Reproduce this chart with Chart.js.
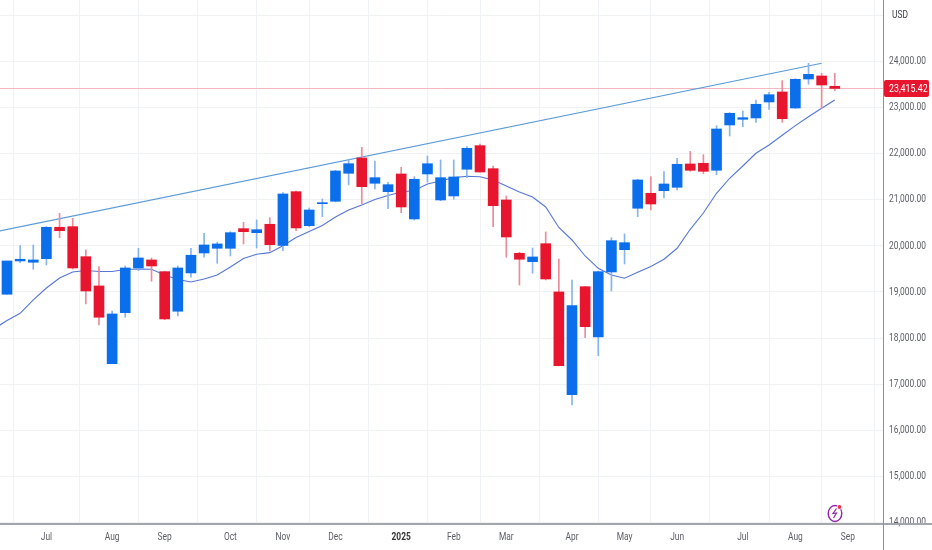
<!DOCTYPE html>
<html>
<head>
<meta charset="utf-8">
<title>Weekly candles</title>
<script src="https://cdn.jsdelivr.net/npm/chart.js@4/dist/chart.umd.min.js"></script>
<style>
    html, body { margin: 0; padding: 0; background: #fff; }
    canvas { display: block; }
</style>
</head>
<body>
<canvas id="chart" width="932" height="550"></canvas>
<script>
const opens = [18951,19673,19645,19723,20404,20417,19766,19131,17445,18552,19521,19695,19441,18582,19413,19846,
    19948,19948,20374,20287,20469,20009,21176,20439,20916,20968,21575,21907,21358,21176,21560,20584,
    21560,20996,21083,21662,22174,21675,20996,19840,19658,20048,19001,16773,19115,18025,19434,19918,
    20816,21141,21198,21271,21777,21792,21640,22623,22746,22775,23122,23339,22991,23620,23686,23462];
const highs = [19673,20005,20020,20417,20708,20599,19912,19549,18588,19564,19948,19738,19450,19564,19948,20274,
    20079,20308,20512,20562,20612,21154,21191,20822,21018,21640,21879,22139,21842,21380,21705,21501,
    21950,21864,21864,22152,22211,21733,21083,19862,19955,20302,19716,19261,19125,19450,20178,20259,
    21445,21501,21610,21900,22052,21979,22608,22890,22926,23165,23332,23584,23625,23961,23744,23744];
const lows = [18951,19636,19493,19586,20178,19499,18740,18285,17445,18452,19463,19233,18400,18480,19319,19753,
    19623,19781,20042,19955,19890,19896,20330,20417,20634,20955,21321,20909,21235,20807,20721,20562,
    21380,20981,21011,21480,21597,20417,19753,19152,19406,19261,17395,16550,18009,17619,19022,19608,
    20634,20779,21039,21213,21618,21566,21545,22384,22586,22681,22963,22681,22980,23506,22985,23367];
const closes = [19673,19710,19695,20404,20330,19521,19022,18452,18523,19521,19738,19564,18415,19521,19797,20020,
    20042,20287,20308,20352,20026,21126,20389,20779,20931,21625,21783,21284,21480,21328,20844,21445,
    21783,21480,21495,22117,21603,20872,20193,19710,19760,19282,17402,18703,18248,19441,20113,20070,
    21430,20909,21343,21770,21640,21618,22536,22877,22781,23072,23280,22759,23614,23722,23490,23415.42];

// moving average, first value sits one week left of the first candle
const maValues = [18198,18382,18538,18827,19087,19304,19434,19467,19445,19445,19488,19499,19493,19369,19272,19217,19282,
    19369,19543,19727,19818,19853,20005,20183,20313,20443,20627,20779,20887,21007,21094,21170,21202,
    21343,21408,21480,21510,21501,21430,21300,21170,21061,20844,20400,20128,19781,19514,19369,19298,
    19428,19554,19710,19948,20360,20714,21141,21467,21733,22009,22189,22399,22608,22803,22985,23165];

const trendIndex = [-1, 62];
const trendValues = [20298, 23961];

const xTickIndex = [3, 8, 12, 17, 21, 25, 30, 34, 38, 43, 47, 51, 56, 60, 64];
const xTickLabels = ["Jul", "Aug", "Sep", "Oct", "Nov", "Dec", "2025", "Feb", "Mar", "Apr", "May", "Jun", "Jul", "Aug", "Sep"];
const yTicks = [25000, 24000, 23000, 22000, 21000, 20000, 19000, 18000, 17000, 16000, 15000, 14000];

const UP = "#0b6fec";
const DOWN = "#e8152f";
const UP_WICK = "#86b4ec";
const DOWN_WICK = "#ec8b99";
const FONT = "Roboto, sans-serif";
const SQUEEZE = 0.8; // the original labels are set in a narrow face

const formatPrice = (v) => v.toLocaleString("en-US", { minimumFractionDigits: 2, maximumFractionDigits: 2 });

const isUp = closes.map((c, i) => c >= opens[i]);

function narrowText(ctx, text, x, y, font, color, align) {
    ctx.save();
    ctx.translate(x, y);
    ctx.scale(SQUEEZE, 1);
    ctx.font = font;
    ctx.fillStyle = color;
    ctx.textAlign = align;
    ctx.textBaseline = "middle";
    ctx.fillText(text, 0, 0);
    ctx.restore();
}

const overlay = {
    id: "overlay",
    beforeDatasetsDraw(chart) {
        const { ctx, chartArea, scales } = chart;
        const last = closes[closes.length - 1];
        const py = Math.round(scales.y.getPixelForValue(last)) + 0.5;
        ctx.save();
        ctx.strokeStyle = "#f3b9c0";
        ctx.lineWidth = 1;
        ctx.beginPath();
        ctx.moveTo(0, py);
        ctx.lineTo(chartArea.right, py);
        ctx.stroke();
        ctx.restore();
    },
    afterDraw(chart) {
        const { ctx, chartArea, scales } = chart;
        const last = closes[closes.length - 1];
        const py = scales.y.getPixelForValue(last);

        // tick labels
        yTicks.forEach((v) => {
            if (v === 25000) return;
            narrowText(ctx, formatPrice(v), chartArea.right + 6, scales.y.getPixelForValue(v), "10.5px " + FONT, "#5a5d64", "left");
        });
        xTickIndex.forEach((v, i) => {
            const bold = xTickLabels[i] === "2025";
            narrowText(ctx, xTickLabels[i], scales.x.getPixelForValue(v), 537, (bold ? "bold " : "") + "10.5px " + FONT, bold ? "#333" : "#5a5d64", "center");
        });

        ctx.save();

        // axis lines run on past the plot area
        ctx.strokeStyle = "#a3a7ad";
        ctx.lineWidth = 2;
        ctx.beginPath();
        ctx.moveTo(0, chartArea.bottom);
        ctx.lineTo(932, chartArea.bottom);
        ctx.stroke();
        ctx.strokeStyle = "#8d8f93";
        ctx.lineWidth = 1;
        ctx.beginPath();
        ctx.moveTo(chartArea.right + 0.5, 0);
        ctx.lineTo(chartArea.right + 0.5, 550);
        ctx.stroke();

        // last price tag
        ctx.fillStyle = DOWN;
        ctx.beginPath();
        ctx.roundRect(chartArea.right + 1, py - 8.5, 45, 17, 2);
        ctx.fill();

        // bolt logo
        ctx.strokeStyle = "#8e24aa";
        ctx.lineWidth = 1.4;
        ctx.beginPath();
        ctx.ellipse(835, 513.5, 6.8, 8, 0, 0, Math.PI * 2);
        ctx.stroke();
        ctx.beginPath();
        ctx.moveTo(836.5, 508.5);
        ctx.lineTo(833, 513.5);
        ctx.lineTo(836.5, 513);
        ctx.lineTo(833.5, 518);
        ctx.lineWidth = 1.2;
        ctx.stroke();
        ctx.fillStyle = "#fff";
        ctx.beginPath();
        ctx.arc(839.5, 507, 2.6, 0, Math.PI * 2);
        ctx.fill();
        ctx.fillStyle = "#f0324a";
        ctx.beginPath();
        ctx.arc(839.5, 507, 1.9, 0, Math.PI * 2);
        ctx.fill();
        ctx.restore();

        narrowText(ctx, formatPrice(last), chartArea.right + 6, py + 0.5, "11px " + FONT, "#fff", "left");
        narrowText(ctx, "USD", 892, 15, "10.5px " + FONT, "#3a3d45", "left");
    },
};

new Chart(document.getElementById("chart"), {
    data: {
        datasets: [
            {
                type: "bar",
                order: 1,
                grouped: false,
                data: opens.map((o, i) => ({ x: i, y: [o, closes[i]] })),
                backgroundColor: isUp.map((u) => (u ? UP : DOWN)),
                barThickness: 10,
                minBarLength: 1,
                borderWidth: 0,
            },
            {
                type: "bar",
                order: 2,
                grouped: false,
                data: highs.map((h, i) => ({ x: i, y: [lows[i], h] })),
                backgroundColor: isUp.map((u) => (u ? UP_WICK : DOWN_WICK)),
                barThickness: 1,
                borderWidth: 0,
            },
            {
                type: "line",
                order: 3,
                data: maValues.map((v, i) => ({ x: i - 1, y: v })),
                borderColor: "#5676d6",
                borderWidth: 1.1,
                pointRadius: 0,
                tension: 0,
            },
            {
                type: "line",
                order: 4,
                data: trendValues.map((v, i) => ({ x: trendIndex[i], y: v })),
                borderColor: "#5b9ad8",
                borderWidth: 1.1,
                pointRadius: 0,
            },
        ],
    },
    options: {
        responsive: false,
        animation: false,
        events: [],
        layout: { padding: 0 },
        plugins: { legend: false, tooltip: false, title: false },
        scales: {
            x: {
                type: "linear",
                offset: false,
                min: -0.533,
                max: 66.67,
                afterFit: (s) => { s.height = 26; s.paddingLeft = 0; s.paddingRight = 0; },
                afterBuildTicks: (s) => { s.ticks = xTickIndex.map((v) => ({ value: v })); },
                grid: { color: "#eff2f6", drawTicks: false },
                border: { display: false },
                ticks: { display: false },
            },
            y: {
                type: "linear",
                position: "right",
                min: 13967,
                max: 25334,
                afterFit: (s) => { s.width = 49; s.paddingTop = 0; s.paddingBottom = 0; },
                afterBuildTicks: (s) => { s.ticks = yTicks.map((v) => ({ value: v })); },
                grid: { color: "#f0f1f3", drawTicks: false },
                border: { display: false },
                ticks: { display: false },
            },
        },
    },
    plugins: [overlay],
});
</script>
</body>
</html>
